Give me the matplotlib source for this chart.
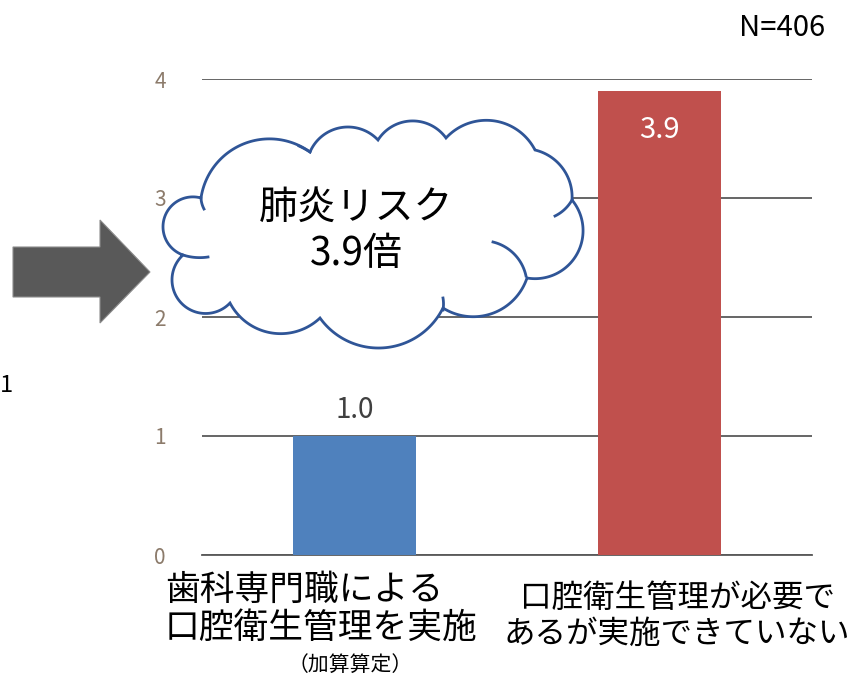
import numpy as np
import matplotlib
matplotlib.use("Agg")
from matplotlib import pyplot as plt
from matplotlib.patches import Polygon

plt.rcParams['font.family'] = ['Noto Sans CJK JP', 'DejaVu Sans']

categories = ['歯科専門職による\n口腔衛生管理を実施', '口腔衛生管理が必要で\nあるが実施できていない']
sub_label = '（加算算定）'
values = [1.0, 3.9]
colors = ['#4f81bd', '#c0504d']
yticks = [0, 1, 2, 3, 4]
cloud_text = '肺炎リスク\n3.9倍'
n_text = 'N=406'

fig = plt.figure(figsize=(8.55, 6.78), dpi=100)
W, H = 855, 678

ax = fig.add_axes([202 / W, 123 / H, 610 / W, 476 / H])
x = np.arange(len(categories))
ax.bar(x, values, width=0.405, color=colors, zorder=3)
ax.set_xlim(-0.5, 1.5)
ax.set_ylim(0, 4)
ax.set_yticks(yticks)
ax.yaxis.grid(True, color='#595959', linewidth=1.3, zorder=0)
ax.tick_params(axis='y', length=0, pad=26, labelsize=15, labelcolor='#8c7b6b')
ax.set_xticks([])
for s in ['left', 'right', 'top']:
    ax.spines[s].set_visible(False)
ax.spines['bottom'].set_color('#595959')
ax.spines['bottom'].set_linewidth(1.3)

# value labels
ax.annotate(f'{values[0]:.1f}', (x[0], values[0]), xytext=(0, 19), textcoords='offset points',
            ha='center', va='center', fontsize=20, color='#404040')
ax.annotate(f'{values[1]:.1f}', (x[1], values[1]), xytext=(0, -28), textcoords='offset points',
            ha='center', va='center', fontsize=21, color='white', zorder=4)

# overlay in pixel coordinates
ov = fig.add_axes([0, 0, 1, 1], facecolor='none')
ov.set_xlim(0, W)
ov.set_ylim(H, 0)
ov.axis('off')

# category labels
ov.text(165, 609, categories[0], ha='left', va='center', fontsize=25,
        multialignment='left', linespacing=1.1, color='black')
ov.text(677, 616, categories[1], ha='center', va='center', fontsize=22.7,
        multialignment='center', linespacing=1.17, color='black')
ov.text(350, 665, sub_label, ha='center', va='center', fontsize=15, color='black')

# N label and clipped "1" on the left
ov.text(782, 28, n_text, ha='center', va='center', fontsize=21, color='black')
ov.text(0, 385, '1', ha='left', va='center', fontsize=17, color='black')

# block arrow
arrow = Polygon([(13, 247), (100, 247), (100, 220), (150, 272), (100, 323), (100, 297), (13, 297)],
                closed=True, facecolor='#595959', edgecolor='#8c8c8c', linewidth=0.8, zorder=2)
ov.add_patch(arrow)


# cloud: arcs between cusps, each through one point on the bump
def circle3(p1, p2, p3):
    (x1, y1), (x2, y2), (x3, y3) = p1, p2, p3
    d = 2 * (x1 * (y2 - y3) + x2 * (y3 - y1) + x3 * (y1 - y2))
    ux = ((x1**2 + y1**2) * (y2 - y3) + (x2**2 + y2**2) * (y3 - y1) + (x3**2 + y3**2) * (y1 - y2)) / d
    uy = ((x1**2 + y1**2) * (x3 - x2) + (x2**2 + y2**2) * (x1 - x3) + (x3**2 + y3**2) * (x2 - x1)) / d
    return np.array([ux, uy]), np.hypot(x1 - ux, y1 - uy)


def arc(p1, pm, p2, n=60):
    c, r = circle3(p1, pm, p2)
    a1 = np.arctan2(p1[1] - c[1], p1[0] - c[0])
    am = np.arctan2(pm[1] - c[1], pm[0] - c[0])
    a2 = np.arctan2(p2[1] - c[1], p2[0] - c[0])
    tw = 2 * np.pi
    d2 = (a2 - a1) % tw
    dm = (am - a1) % tw
    t = a1 + np.linspace(0, d2, n) if dm < d2 else a1 - np.linspace(0, tw - d2, n)
    return np.column_stack([c[0] + r * np.cos(t), c[1] + r * np.sin(t)])


cusps = [(201, 198), (310, 152), (378, 140), (446, 138), (535, 150), (572, 200),
         (527, 278), (443, 308), (320, 318), (230, 303), (183, 255)]
mids = [(257, 140), (348, 127), (415, 121), (495, 121), (560, 165), (583, 233),
        (500, 310), (380, 348), (267, 332), (172, 280), (163, 227)]
pts = []
for i in range(len(cusps)):
    p = arc(cusps[i], mids[i], cusps[(i + 1) % len(cusps)])
    pts.append(p[:-1])
outline = np.vstack(pts)
ov.add_patch(Polygon(outline, closed=True, facecolor='white', edgecolor='#2f5597',
                     linewidth=2.0, zorder=3))

# small inner curls
hooks = [((183, 255), (196, 257.5), (208, 257)),
         ((526, 276), (516, 256), (493, 242)),
         ((572, 200), (565, 209), (555, 216)),
         ((443, 310), (443.5, 304), (443, 298)),
         ((201, 198), (202, 204), (204, 209)),
         ((310, 152), (305, 149), (299, 146))]
for a, m, b in hooks:
    p = arc(a, m, b, n=30)
    ov.plot(p[:, 0], p[:, 1], color='#2f5597', linewidth=2.0, zorder=4)

ov.text(356, 231, cloud_text, ha='center', va='center', fontsize=28, linespacing=1.22,
        color='black', zorder=5)

fig.savefig('out.png', dpi=100)
